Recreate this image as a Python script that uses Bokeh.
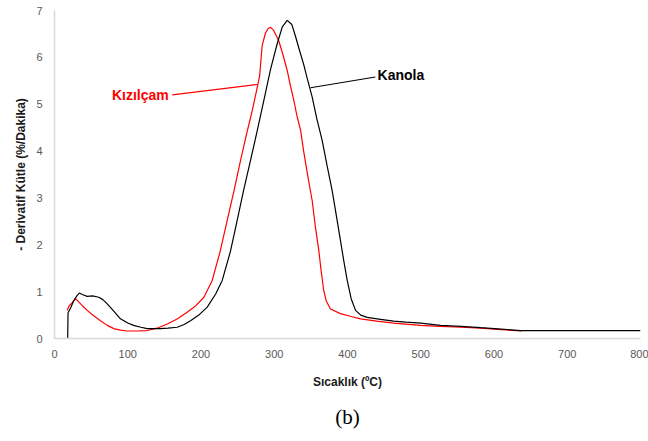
from bokeh.plotting import figure
from bokeh.models import Range1d, FixedTicker, Label, Title
from bokeh.embed import file_html
from bokeh.resources import INLINE

# Kanola (black) derivative mass loss curve
kanola_T = [18, 18.5, 22, 26, 31, 34, 38, 44.6, 52, 60.5, 66, 72, 80, 90, 100, 108, 118,
            126.5, 135, 144.7, 155, 167.5, 177, 185.7, 197, 208.5, 220, 229, 240, 249.4,
            258, 267.6, 277, 285.8, 295, 304, 311, 317.7, 324, 329, 333.5, 340, 345, 351.8,
            358, 365.4, 372, 379, 385, 390.4, 395, 399.6, 405, 411, 418, 427, 445, 463, 480,
            500, 527, 555, 581.6, 610, 636, 700, 800]
kanola_D = [0, 0.55, 0.65, 0.8, 0.92, 0.97, 0.94, 0.9, 0.91, 0.88, 0.83, 0.74, 0.6, 0.42,
            0.33, 0.28, 0.24, 0.21, 0.21, 0.21, 0.22, 0.24, 0.3, 0.38, 0.5, 0.67, 0.95, 1.24,
            1.85, 2.52, 3.15, 3.8, 4.45, 5.08, 5.75, 6.29, 6.65, 6.79, 6.7, 6.45, 6.2, 5.86,
            5.55, 5.15, 4.7, 4.23, 3.7, 3.16, 2.6, 2.09, 1.65, 1.24, 0.85, 0.6, 0.5, 0.45,
            0.41, 0.37, 0.35, 0.33, 0.28, 0.26, 0.23, 0.2, 0.17, 0.17, 0.17]

# Kızılçam (red) derivative mass loss curve
kizilcam_T = [17.3, 20, 24, 28.7, 33, 38, 44.6, 53, 62.8, 72, 81, 90, 99, 112, 126.5, 140,
              154, 168, 181, 193, 204, 215.3, 226, 235.8, 245, 254, 262, 270, 276, 280,
              283.5, 288, 292, 295, 299, 306, 312, 317.7, 322, 326.7, 331, 336, 340, 346,
              351.8, 356, 360.8, 364, 367.6, 371, 376.8, 390.4, 405, 417.7, 440, 463, 499.7,
              527, 555, 581.6, 610, 638]
kizilcam_D = [0.6, 0.7, 0.76, 0.85, 0.78, 0.7, 0.6, 0.49, 0.38, 0.28, 0.21, 0.18, 0.16, 0.16,
              0.17, 0.22, 0.31, 0.42, 0.56, 0.7, 0.88, 1.24, 1.85, 2.52, 3.15, 3.8, 4.35, 4.87,
              5.3, 5.6, 6.25, 6.52, 6.62, 6.64, 6.58, 6.36, 6.05, 5.72, 5.4, 5.08, 4.75, 4.44,
              4.01, 3.45, 2.94, 2.4, 1.88, 1.45, 1.02, 0.8, 0.63, 0.53, 0.47, 0.42, 0.37, 0.33,
              0.28, 0.26, 0.24, 0.22, 0.19, 0.16]

x_ticks = [0, 100, 200, 300, 400, 500, 600, 700, 800]
y_ticks = [0, 1, 2, 3, 4, 5, 6, 7]

# callout labels (text, anchor, leader line)
kiz_label = "Kızılçam"
kiz_text_pos = (156, 5.2)
kiz_leader_x = [160.7, 276.7]
kiz_leader_y = [5.2, 5.42]
kan_label = "Kanola"
kan_text_pos = (441, 5.63)
kan_leader_x = [349.5, 438]
kan_leader_y = [5.35, 5.58]
caption = "(b)"

p = figure(width=648, height=441, output_backend="svg", toolbar_location=None,
           x_range=Range1d(0, 800), y_range=Range1d(0, 7),
           min_border_left=54, min_border_right=8, min_border_top=10, min_border_bottom=103)
p.outline_line_color = None
p.xgrid.visible = False
p.ygrid.visible = False
p.background_fill_color = "white"
p.border_fill_color = "white"

for ax in (p.xaxis[0], p.yaxis[0]):
    ax.axis_line_color = "#d9d9d9"
    ax.axis_line_width = 1.5
    ax.major_tick_line_color = None
    ax.minor_tick_line_color = None
    ax.major_tick_in = 0
    ax.major_tick_out = 0
    ax.major_label_text_font = "Liberation Sans"
    ax.major_label_text_font_size = "11px"
    ax.major_label_text_color = "#595959"
    ax.axis_label_text_font = "Liberation Sans"
    ax.axis_label_text_font_size = "12px"
    ax.axis_label_text_font_style = "bold"
    ax.axis_label_text_color = "#1a1a1a"

p.xaxis.ticker = FixedTicker(ticks=x_ticks)
p.yaxis.ticker = FixedTicker(ticks=y_ticks)
p.xaxis.axis_label = "Sıcaklık (ºC)"
p.yaxis.axis_label = "- Derivatif Kütle (%/Dakika)"
p.xaxis.major_label_standoff = 11
p.xaxis.axis_label_standoff = 14
p.yaxis.major_label_standoff = 12
p.yaxis.axis_label_standoff = 5

p.line(kizilcam_T, kizilcam_D, line_color="#ff0000", line_width=1.2)
p.line(kanola_T, kanola_D, line_color="#000000", line_width=1.2)

p.line(kiz_leader_x, kiz_leader_y, line_color="#ff0000", line_width=1.1)
p.line(kan_leader_x, kan_leader_y, line_color="#000000", line_width=1.1)

p.add_layout(Label(x=kiz_text_pos[0], y=kiz_text_pos[1], text=kiz_label,
                   text_align="right", text_baseline="middle",
                   text_font="Liberation Sans", text_font_style="bold",
                   text_font_size="14px", text_color="#ff0000"))
p.add_layout(Label(x=kan_text_pos[0], y=kan_text_pos[1], text=kan_label,
                   text_align="left", text_baseline="middle",
                   text_font="Liberation Sans", text_font_style="bold",
                   text_font_size="14px", text_color="#000000"))
p.add_layout(Title(text=caption, align="center", standoff=23,
                   text_font="Liberation Serif", text_font_style="normal",
                   text_font_size="21px", text_color="#000000"), "below")

open("out.html", "w").write(file_html(p, INLINE))
